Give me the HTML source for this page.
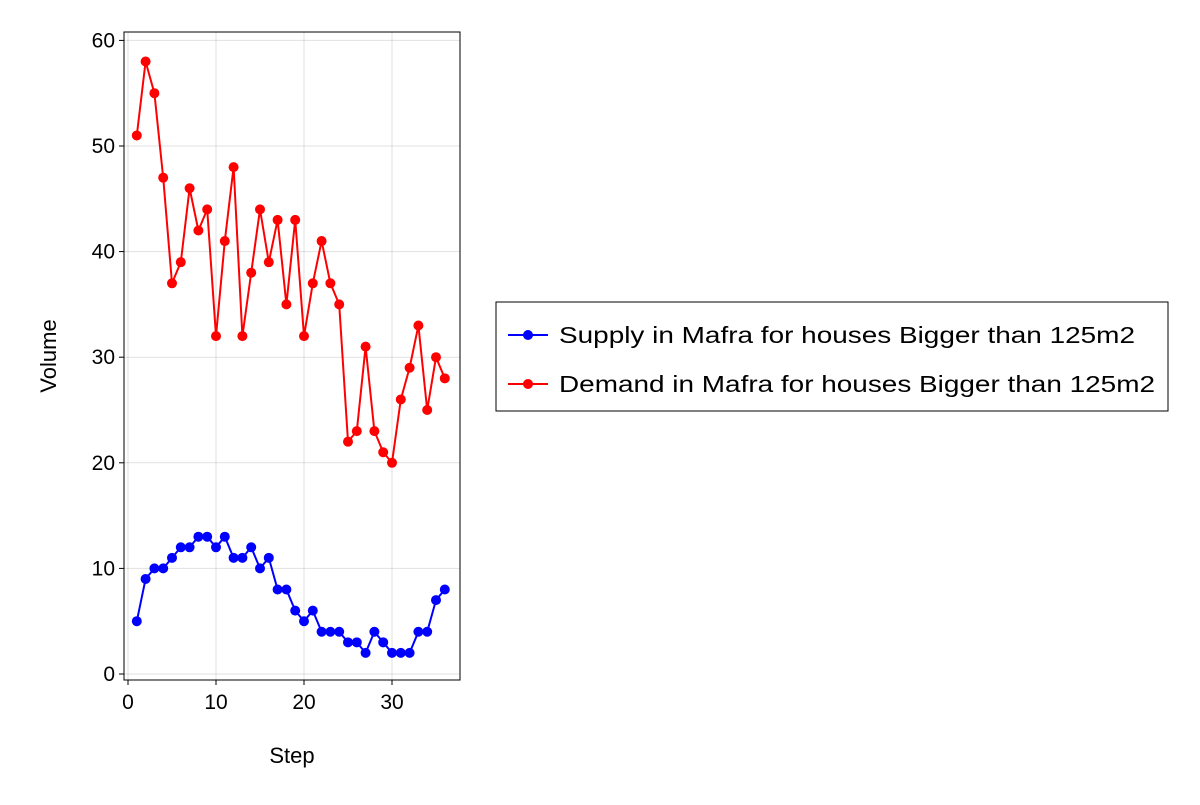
<!DOCTYPE html>
<html><head><meta charset="utf-8"><style>
body{margin:0;background:#fff;font-family:"Liberation Sans",sans-serif;}
svg text{font-family:"Liberation Sans",sans-serif;fill:#000;}
</style></head><body>
<svg id="chart" width="1200" height="800">
</svg>
<script>
const steps=[1,2,3,4,5,6,7,8,9,10,11,12,13,14,15,16,17,18,19,20,21,22,23,24,25,26,27,28,29,30,31,32,33,34,35,36];
const supply=[5,9,10,10,11,12,12,13,13,12,13,11,11,12,10,11,8,8,6,5,6,4,4,4,3,3,2,4,3,2,2,2,4,4,7,8];
const demand=[51,58,55,47,37,39,46,42,44,32,41,48,32,38,44,39,43,35,43,32,37,41,37,35,22,23,31,23,21,20,26,29,33,25,30,28];
const xTicks=[0,10,20,30];
const yTicks=[0,10,20,30,40,50,60];
const seriesNames=["Supply in Mafra for houses Bigger than 125m2","Demand in Mafra for houses Bigger than 125m2"];
const NS="http://www.w3.org/2000/svg";
const svg=document.getElementById('chart');
const L=124,R=460,T=32,B=680;
const X=v=>128+v*8.8;
const Y=v=>674-v*10.56;
function mk(tag,attrs,parent){const e=document.createElementNS(NS,tag);for(const k in attrs)e.setAttribute(k,attrs[k]);(parent||svg).appendChild(e);return e;}
xTicks.forEach(t=>{const g=mk('line',{x1:X(t),x2:X(t),y1:T,y2:B,stroke:'#000','stroke-opacity':0.12,'stroke-width':1});

});
yTicks.forEach(t=>{const g=mk('line',{x1:L,x2:R,y1:Y(t),y2:Y(t),stroke:'#000','stroke-opacity':0.12,'stroke-width':1});

});
const frame=mk('rect',{x:L,y:T,width:R-L,height:B-T,fill:'none',stroke:'#000','stroke-width':1});


xTicks.forEach(t=>{mk('line',{x1:X(t),x2:X(t),y1:B,y2:B+5,stroke:'#000'});
const tx=mk('text',{x:X(t),y:B+29,'text-anchor':'middle','font-size':21});tx.textContent=t;

});
yTicks.forEach(t=>{mk('line',{x1:L-5,x2:L,y1:Y(t),y2:Y(t),stroke:'#000'});
const tx=mk('text',{x:L-9,y:Y(t)+7,'text-anchor':'end','font-size':21});tx.textContent=t;

});
const xt=mk('text',{x:292,y:763,'text-anchor':'middle','font-size':22});xt.textContent='Step';


const yt=mk('text',{x:56,y:356,'text-anchor':'middle','font-size':22,transform:'rotate(-90 56 356)'});yt.textContent='Volume';


function series(vals,color,name){
  const p=mk('polyline',{points:vals.map((v,i)=>X(steps[i])+','+Y(v)).join(' '),fill:'none',stroke:color,'stroke-width':2});
  
  
  vals.forEach((v,i)=>{const c=mk('circle',{cx:X(steps[i]),cy:Y(v),r:5,fill:color});
  
  });
}
series(supply,'#0000ff','supply');
series(demand,'#ff0000','demand');
const lg=mk('g',{});


mk('rect',{x:496,y:302,width:672,height:109,fill:'#fff',stroke:'#000','stroke-width':1},lg);
const legW=[576,596];
[['#0000ff',335],['#ff0000',384]].forEach((d,i)=>{
  const g=mk('g',{},lg);
  
  
  mk('line',{x1:508,x2:548,y1:d[1],y2:d[1],stroke:d[0],'stroke-width':2},g);
  mk('circle',{cx:528,cy:d[1],r:5,fill:d[0]},g);
  const t=mk('text',{x:559,y:d[1]+8,'font-size':23,textLength:legW[i],lengthAdjust:'spacingAndGlyphs'},g);t.textContent=seriesNames[i];
});
</script>
</body></html>
